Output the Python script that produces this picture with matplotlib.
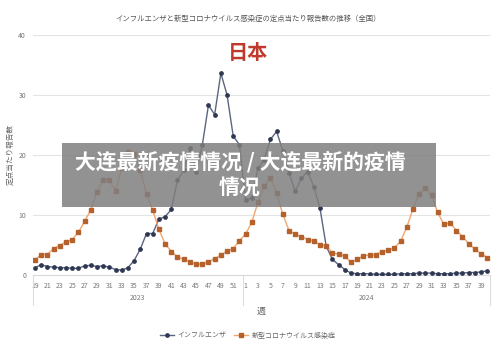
import matplotlib.pyplot as plt
import matplotlib.transforms as mtransforms
from matplotlib.patches import Rectangle

plt.rcParams['font.family'] = ['Noto Sans CJK JP', 'DejaVu Sans']

# weeks: 2023 wk19-52, 2024 wk1-40
weeks_2023 = list(range(19, 53))
weeks_2024 = list(range(1, 41))
weeks = weeks_2023 + weeks_2024

influenza = [1.2, 1.7, 1.4, 1.3, 1.2, 1.2, 1.1, 1.1, 1.5, 1.6,
             1.4, 1.5, 1.3, 0.9, 0.8, 1.2, 2.4, 4.3, 6.9, 6.9,
             9.3, 9.7, 10.9, 15.8, 17.4, 21.1, 17.2, 21.6, 28.3, 26.7,
             33.6, 30.0, 23.1, 21.7,
             12.5, 12.8, 17.8, 19.2, 22.6, 23.9, 20.7, 17.0, 13.9, 16.1,
             17.2, 14.7, 11.1, 4.8, 2.6, 1.7, 0.9, 0.3, 0.2, 0.2,
             0.2, 0.1, 0.1, 0.1, 0.1, 0.2, 0.2, 0.2, 0.3, 0.3,
             0.3, 0.2, 0.2, 0.2, 0.3, 0.3, 0.4, 0.4, 0.5, 0.7]

covid = [2.5, 3.4, 3.4, 4.4, 4.9, 5.5, 5.9, 7.1, 8.9, 10.8,
         13.8, 15.8, 15.8, 14.0, 17.8, 20.5, 20.2, 17.5, 13.5, 10.8,
         7.6, 5.2, 3.9, 3.0, 2.6, 2.2, 1.8, 1.8, 2.2, 2.7,
         3.3, 4.0, 4.4, 5.7,
         6.8, 8.8, 12.1, 14.8, 16.2, 13.6, 10.1, 7.4, 6.8, 6.4,
         5.9, 5.7, 5.0, 4.9, 3.6, 3.5, 3.1, 2.1, 2.6, 3.2,
         3.3, 3.4, 3.9, 4.1, 4.5, 5.6, 7.9, 11.0, 13.5, 14.5,
         13.3, 10.4, 8.4, 8.7, 7.4, 6.4, 5.2, 4.3, 3.5, 2.9]

years = ['2023', '2024']
series_names = ['インフルエンザ', '新型コロナウイルス感染症']
title = 'インフルエンザと新型コロナウイルス感染症の定点当たり報告数の推移（全国）'

x = list(range(len(weeks)))
n23 = len(weeks_2023)

fig = plt.figure(figsize=(5, 3.52), dpi=100)
ax = fig.add_axes([0.066, 0.219, 0.914, 0.682])

ax.plot(x, influenza, color='#5b6580', lw=1.0, marker='o', ms=2.4,
        mfc='#2e3852', mec='#2e3852', label=series_names[0], zorder=3)
ax.plot(x, covid, color='#f3a66e', lw=1.0, marker='s', ms=2.4,
        mfc='#b4612c', mec='#b4612c', label=series_names[1], zorder=3)

ax.set_xlim(-0.32, len(weeks) - 1 + 0.44)
ax.set_ylim(0, 40)
ax.set_yticks([0, 10, 20, 30, 40])
ax.yaxis.grid(True, color='#e4e4e4', lw=0.8)
ax.set_axisbelow(True)
for s in ['top', 'right', 'left']:
    ax.spines[s].set_visible(False)
ax.spines['bottom'].set_color('#d9d9d9')

ax.set_xticks(x[::2])
ax.set_xticklabels([str(w) for w in weeks[::2]])
ax.tick_params(axis='both', length=0, labelsize=5, labelcolor='#777777', pad=5)

ax.set_ylabel('定点当たり報告数', fontsize=5.5, color='#666666', labelpad=3)
ax.set_xlabel('週', fontsize=6.5, color='#666666', labelpad=12)

# year group labels and separators
trans = mtransforms.blended_transform_factory(ax.transData, ax.transAxes)
ax.text((n23 - 1) / 2, -0.095, years[0], transform=trans, ha='center', va='center',
        fontsize=5, color='#777777')
ax.text(n23 + (len(weeks_2024) - 1) / 2, -0.095, years[1], transform=trans,
        ha='center', va='center', fontsize=5, color='#777777')
for sx in [-0.32, n23 - 0.5, len(weeks) - 1 + 0.44]:
    ax.plot([sx, sx], [0, -0.125], transform=trans, color='#dddddd', lw=0.8,
            clip_on=False)

ax.legend(loc='upper center', bbox_to_anchor=(0.47, -0.21), ncol=2, frameon=False,
          fontsize=5, labelcolor='#666666', handlelength=2.0, columnspacing=1.2,
          handletextpad=0.5)

fig.text(0.496, 0.948, title, ha='center', va='center', fontsize=5.3, color='#555555')

# overlay texts
fig.text(0.496, 0.852, '日本', ha='center', va='center', fontsize=14.5,
         color='#c0392b', fontweight='bold', family=['Noto Sans CJK SC', 'DejaVu Sans'])
fig.patches.append(Rectangle((0.124, 0.412), 0.748, 0.182, transform=fig.transFigure,
                             facecolor='#7f7f7f', alpha=0.85, edgecolor='none', zorder=5))
fig.text(0.48, 0.54, '大连最新疫情情况 / 大连最新的疫情', ha='center', va='center',
         fontsize=15, color='white', fontweight='bold', zorder=6,
         family=['Noto Sans CJK SC', 'DejaVu Sans'])
fig.text(0.48, 0.469, '情况', ha='center', va='center', fontsize=15, color='white',
         fontweight='bold', zorder=6, family=['Noto Sans CJK SC', 'DejaVu Sans'])

fig.savefig('out.png', dpi=100)
